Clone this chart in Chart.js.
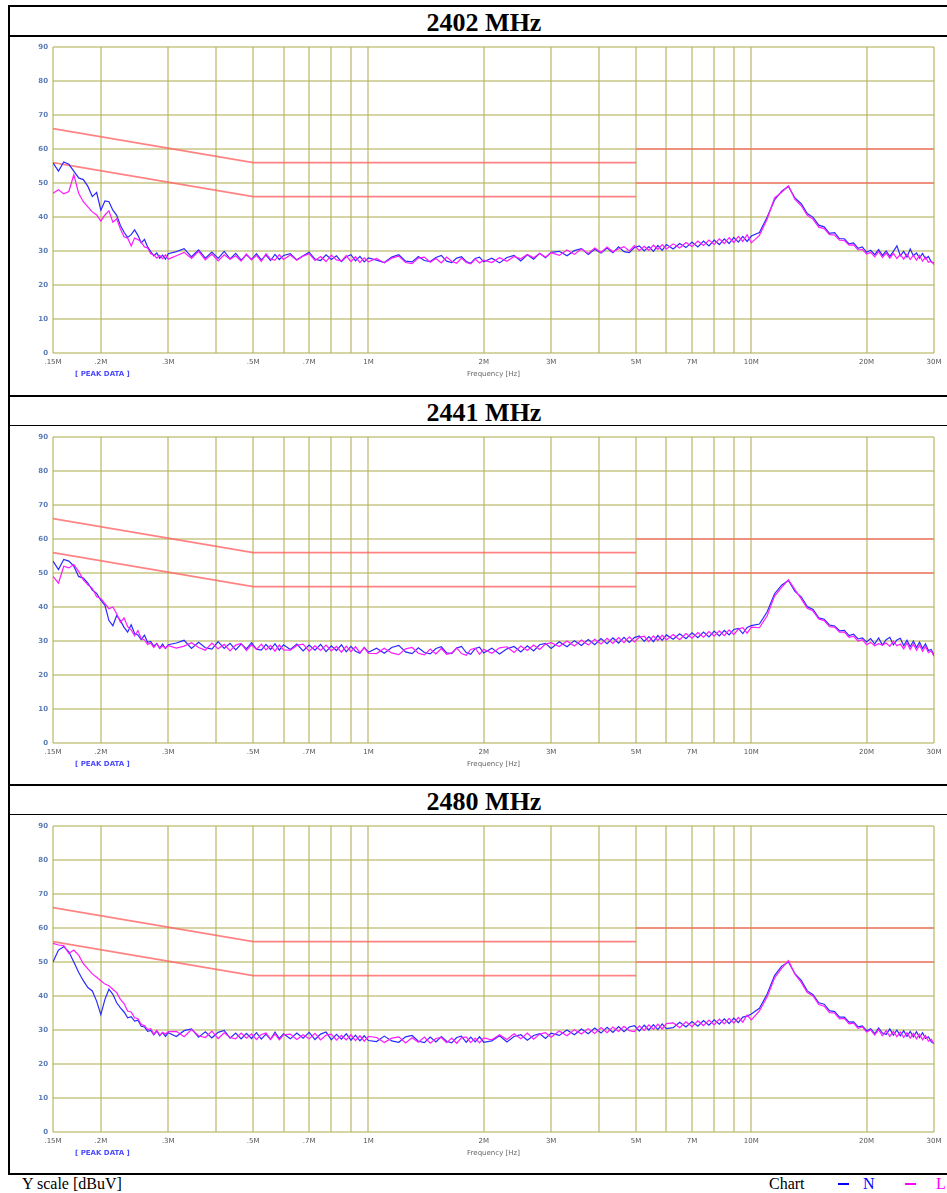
<!DOCTYPE html>
<html>
<head>
<meta charset="utf-8">
<title>Conducted emission</title>
<script src="https://cdn.jsdelivr.net/npm/chart.js@4.4.1/dist/chart.umd.min.js"></script>
<style>
    html, body { margin: 0; padding: 0; background: #fff; overflow: hidden; }
    body { width: 947px; height: 1193px; position: relative; font-family: "Liberation Serif", "Times New Roman", serif; }
    .rule { position: absolute; left: 8px; width: 960px; background: #000; }
    .vrule { position: absolute; left: 8px; top: 5px; width: 2px; height: 1170px; background: #000; }
    .title { position: absolute; left: 10px; width: 948px; height: 29px; line-height: 31px; text-align: center;
             font-weight: bold; font-size: 26px; color: #000; }
    canvas.plot { position: absolute; left: 10px; }
    .foot { position: absolute; top: 1174px; font-size: 16px; line-height: 20px; white-space: nowrap; }
    .dash { position: absolute; top: 1183px; width: 11px; height: 2px; }
</style>
</head>
<body>

<div class="vrule"></div>
<div class="rule" style="top:5px;height:2px"></div>
<div class="rule" style="top:35px;height:2px"></div>
<div class="rule" style="top:395px;height:2px"></div>
<div class="rule" style="top:425px;height:1px"></div>
<div class="rule" style="top:784px;height:2px"></div>
<div class="rule" style="top:814px;height:1px"></div>
<div class="rule" style="top:1173px;height:2px"></div>

<div class="title" style="top:7px">2402 MHz</div>
<canvas class="plot" id="plot2402" width="937" height="357" style="top:37px"></canvas>

<div class="title" style="top:397px">2441 MHz</div>
<canvas class="plot" id="plot2441" width="937" height="357" style="top:427px"></canvas>

<div class="title" style="top:786px">2480 MHz</div>
<canvas class="plot" id="plot2480" width="937" height="357" style="top:816px"></canvas>

<div class="foot" style="left:22px">Y scale [dBuV]</div>
<div class="foot" style="left:769px">Chart</div>
<div class="dash" style="left:838px;background:#0000ff"></div>
<div class="foot" style="left:863px;color:#0000ff">N</div>
<div class="dash" style="left:905px;background:#ff00ff"></div>
<div class="foot" style="left:936px;color:#ff00ff">L</div>

<script>
// Sweep frequencies in MHz, shared by every trace
const FREQ_MHZ = [
    0.150, 0.155, 0.160, 0.165, 0.170, 0.175, 0.180, 0.185, 0.190, 0.195, 0.200, 0.205, 0.210, 0.215, 0.220, 0.225,
    0.230, 0.235, 0.240, 0.245, 0.250, 0.255, 0.260, 0.265, 0.270, 0.275, 0.280, 0.285, 0.290, 0.295, 0.300,
    0.315, 0.330, 0.345, 0.360, 0.375, 0.390, 0.405, 0.420, 0.435, 0.450, 0.465, 0.480, 0.495, 0.510, 0.525, 0.540, 0.555, 0.570, 0.585, 0.600,
    0.625, 0.650, 0.675, 0.700, 0.725, 0.750, 0.775, 0.800, 0.825, 0.850, 0.875, 0.900, 0.925, 0.950, 0.975, 1.000,
    1.05, 1.10, 1.15, 1.20, 1.25, 1.30, 1.35, 1.40, 1.45, 1.50, 1.55, 1.60, 1.65, 1.70, 1.75, 1.80, 1.85, 1.90, 1.95, 2.00,
    2.1, 2.2, 2.3, 2.4, 2.5, 2.6, 2.7, 2.8, 2.9, 3.0,
    3.15, 3.30, 3.45, 3.60, 3.75, 3.90, 4.05, 4.20, 4.35, 4.50, 4.65, 4.80, 4.95, 5.10, 5.25, 5.40, 5.55, 5.70, 5.85, 6.00,
    6.25, 6.50, 6.75, 7.00, 7.25, 7.50, 7.75, 8.00, 8.25, 8.50, 8.75, 9.00, 9.25, 9.50, 9.75, 10.0,
    10.5, 11.0, 11.5, 12.0, 12.5, 13.0, 13.5, 14.0, 14.5, 15.0, 15.5, 16.0, 16.5, 17.0, 17.5, 18.0, 18.5, 19.0, 19.5, 20.0,
    20.5, 21.0, 21.5, 22.0, 22.5, 23.0, 23.5, 24.0, 24.5, 25.0, 25.5, 26.0, 26.5, 27.0, 27.5, 28.0, 28.5, 29.0, 29.5, 30.0
];

// 2402 MHz, peak readings in dBuV
const N_2402 = [
    55.9, 53.5, 56.2, 55.5, 53.5, 51.5, 51.0, 49.0, 46.0, 47.2, 42.0, 44.7, 44.5, 42.0, 40.5, 37.5,
    35.5, 34.0, 34.8, 36.2, 34.6, 32.4, 33.4, 31.2, 29.8, 28.6, 29.4, 27.9, 28.8, 27.6, 29.2,
    29.8, 30.7, 28.3, 30.3, 27.9, 29.7, 27.8, 29.9, 27.7, 29.3, 27.3, 28.9, 27.5, 29.2, 27.4, 28.8, 27.2, 29.0, 27.5, 28.7,
    29.2, 27.4, 28.6, 29.6, 27.6, 27.2, 28.9, 27.5, 28.6, 26.9, 28.3, 28.9, 27.1, 28.4, 26.8, 28.0,
    27.3, 26.6, 28.2, 28.9, 27.0, 26.8, 28.4, 27.2, 26.9, 28.1, 28.7, 27.0, 26.6, 27.9, 28.3, 26.9, 26.4, 27.8, 28.2, 26.8,
    27.9, 26.5, 28.1, 28.7, 27.1, 28.9, 27.6, 29.3, 28.0, 29.6,
    29.9, 28.6, 30.1, 30.7, 29.0, 30.5, 29.4, 30.9, 29.5, 31.2, 29.8, 29.5, 31.0, 31.5, 30.0, 31.3, 29.9, 31.6, 30.2, 31.9,
    30.6, 32.2, 31.0, 32.6, 31.2, 32.9, 31.5, 33.2, 31.9, 33.6, 32.2, 34.0, 32.6, 34.3, 32.8, 34.4,
    35.4, 40.0, 45.0, 47.6, 49.0, 45.6, 43.9, 41.0, 39.9, 37.6, 37.1, 35.2, 35.4, 33.6, 33.6, 32.1, 32.4, 30.8, 31.2, 29.6,
    30.2, 28.9, 30.4, 28.7, 30.0, 28.4, 29.9, 31.5, 28.6, 29.9, 28.2, 30.6, 28.6, 29.4, 27.9, 29.3, 27.7, 28.4, 26.8, 26.4
];
const L_2402 = [
    47.0, 48.0, 46.8, 47.5, 52.4, 47.0, 44.5, 43.0, 41.5, 40.6, 38.8, 40.6, 41.8, 38.5, 39.5, 36.5,
    34.2, 33.8, 31.5, 33.8, 33.4, 32.6, 31.2, 30.9, 29.2, 28.9, 27.9, 28.7, 27.7, 28.9, 27.6,
    28.6, 29.6, 27.8, 29.9, 27.4, 29.1, 27.1, 28.9, 27.6, 28.6, 27.0, 29.1, 27.4, 28.7, 26.9, 29.2, 27.6, 27.3, 28.9, 27.5,
    28.8, 27.3, 28.5, 29.2, 27.2, 28.4, 26.9, 28.8, 27.4, 27.1, 28.6, 26.9, 28.3, 26.6, 28.0, 26.8,
    27.8, 26.5, 27.9, 28.5, 26.6, 26.3, 27.9, 28.2, 26.7, 27.8, 26.5, 28.2, 27.0, 26.4, 27.9, 26.6, 26.2, 27.6, 26.5, 27.3,
    26.6, 28.0, 27.0, 28.4, 27.7, 29.0, 28.0, 29.3, 28.2, 29.5,
    28.7, 30.3, 29.0, 30.6, 29.3, 30.9, 29.6, 31.2, 29.8, 30.6, 31.3, 30.0, 31.6, 30.1, 31.4, 30.2, 31.7, 30.5, 31.9, 30.6,
    32.1, 30.9, 32.5, 31.3, 32.9, 31.6, 33.2, 31.9, 33.6, 32.2, 33.9, 32.5, 34.3, 32.8, 34.8, 32.4,
    34.6, 39.4, 45.6, 47.3, 49.2, 45.2, 43.3, 40.5, 39.3, 37.0, 36.6, 34.8, 34.7, 33.2, 33.1, 31.7, 31.8, 30.3, 30.5, 29.1,
    29.6, 28.3, 29.8, 28.1, 29.4, 27.9, 29.3, 27.8, 29.0, 27.6, 29.1, 27.5, 28.8, 27.3, 28.7, 27.0, 28.2, 26.7, 27.0, 26.0
];

// 2441 MHz
const N_2441 = [
    53.5, 51.0, 54.0, 53.5, 52.0, 49.0, 48.5, 47.0, 45.0, 44.0, 42.0, 40.5, 36.0, 34.5, 37.5, 36.0,
    34.0, 32.6, 34.8, 32.2, 31.8, 30.4, 31.7, 29.6, 29.9, 28.5, 29.3, 27.9, 29.1, 27.8, 28.9,
    29.4, 30.2, 27.8, 29.6, 28.0, 27.6, 29.8, 27.8, 29.3, 27.4, 29.1, 27.7, 29.5, 27.6, 27.3, 29.0, 27.5, 29.2, 27.3, 28.9,
    27.5, 29.1, 27.1, 28.8, 27.3, 29.0, 26.9, 28.6, 27.2, 28.9, 26.8, 28.4, 27.0, 26.4, 28.1, 26.7,
    27.9, 26.4, 28.1, 28.7, 26.8, 26.3, 28.0, 26.6, 26.2, 27.8, 28.3, 26.5, 26.3, 27.9, 28.4, 26.6, 26.1, 27.8, 28.2, 26.5,
    27.9, 26.2, 27.7, 28.4, 26.8, 28.6, 27.1, 28.9, 29.3, 27.8,
    29.8, 28.3, 30.1, 28.7, 30.4, 28.9, 30.7, 29.2, 30.9, 29.4, 31.1, 29.6, 31.0, 31.5, 29.9, 31.3, 29.8, 31.6, 30.2, 31.8,
    30.5, 32.1, 30.7, 32.4, 31.0, 32.6, 31.2, 32.9, 31.5, 33.1, 31.8, 33.4, 33.7, 32.2, 34.0, 34.5,
    35.0, 38.6, 43.9, 46.4, 47.8, 44.6, 43.0, 40.1, 39.3, 36.8, 36.4, 34.7, 34.4, 33.0, 33.1, 31.6, 32.0, 30.6, 30.9, 29.7,
    30.7, 29.1, 30.9, 28.8, 30.4, 31.1, 28.9, 30.3, 30.8, 28.6, 30.2, 28.3, 30.0, 28.1, 29.7, 27.8, 29.2, 27.2, 27.5, 25.9
];
const L_2441 = [
    49.0, 47.0, 52.0, 51.5, 52.5, 50.5, 48.0, 46.5, 45.5, 43.0, 42.5, 41.0, 39.5, 40.0, 38.0, 35.5,
    36.8, 34.2, 33.3, 31.5, 33.1, 30.7, 30.3, 29.0, 29.4, 28.1, 29.2, 27.8, 28.5, 27.9, 28.6,
    27.9, 28.5, 29.5, 28.1, 27.3, 29.4, 27.7, 29.0, 27.1, 28.8, 29.3, 27.2, 28.9, 27.5, 29.1, 27.4, 28.7, 27.0, 28.8, 27.4,
    27.3, 28.7, 29.1, 27.0, 28.6, 27.2, 28.8, 27.1, 28.4, 26.7, 28.5, 26.9, 28.3, 26.6, 28.0, 26.4,
    26.3, 27.9, 26.5, 26.0, 27.7, 28.1, 26.4, 25.9, 27.6, 26.2, 27.8, 26.1, 26.5, 28.0, 26.3, 25.8, 27.5, 27.9, 26.1, 27.6,
    26.4, 28.0, 28.3, 26.6, 28.5, 27.2, 28.8, 27.5, 29.1, 29.5,
    28.4, 30.0, 28.5, 30.3, 28.8, 30.5, 29.1, 30.8, 29.3, 31.0, 29.5, 31.2, 29.7, 31.1, 31.4, 29.8, 31.5, 30.1, 31.7, 30.3,
    31.9, 30.4, 32.2, 30.8, 32.5, 31.1, 32.8, 31.4, 33.0, 31.6, 33.3, 31.9, 33.5, 33.9, 32.3, 34.1,
    33.9, 37.4, 43.2, 45.8, 48.0, 45.1, 42.4, 39.6, 38.8, 36.5, 36.0, 34.2, 34.1, 32.6, 32.6, 31.1, 31.4, 30.0, 30.4, 28.9,
    29.6, 28.6, 29.2, 28.8, 29.4, 28.4, 30.0, 28.6, 29.1, 27.7, 29.4, 27.5, 29.1, 27.3, 28.8, 27.0, 28.4, 26.6, 27.1, 25.5
];

// 2480 MHz
const N_2480 = [
    50.0, 53.5, 54.5, 53.0, 50.0, 47.0, 44.5, 42.5, 41.5, 38.5, 34.5, 39.0, 42.0, 40.5, 38.0, 36.5,
    35.3, 33.6, 33.9, 32.6, 32.9, 31.1, 30.9, 29.6, 29.9, 28.6, 29.7, 28.3, 29.3, 28.1, 29.2,
    28.1, 29.8, 30.3, 27.9, 29.5, 27.7, 29.3, 29.9, 27.6, 29.1, 27.4, 29.0, 27.5, 29.2, 27.3, 28.8, 27.2, 29.4, 27.5, 28.9,
    27.4, 29.1, 27.6, 29.3, 27.2, 28.8, 29.4, 27.1, 28.7, 27.3, 28.9, 27.0, 28.5, 26.8, 28.3, 26.9,
    26.6, 28.2, 26.8, 26.4, 28.0, 28.4, 26.7, 26.3, 27.9, 26.5, 28.1, 26.7, 26.2, 27.8, 28.2, 26.4, 27.9, 26.5, 28.0, 26.4,
    26.8, 28.3, 26.5, 28.1, 28.6, 27.0, 28.4, 28.9, 27.5, 29.1,
    28.4, 30.0, 28.6, 30.3, 28.9, 30.6, 29.1, 30.8, 29.3, 31.0, 29.5, 30.9, 31.3, 29.7, 31.4, 30.0, 31.6, 30.1, 31.8, 30.4,
    30.7, 32.3, 30.9, 32.5, 31.1, 32.8, 31.4, 33.0, 31.7, 33.3, 31.9, 33.5, 32.2, 33.8, 34.1, 34.7,
    36.4, 40.6, 46.0, 48.8, 50.0, 46.6, 44.6, 41.5, 40.4, 38.0, 37.6, 35.7, 35.4, 33.8, 33.8, 32.3, 32.4, 30.9, 31.2, 29.8,
    30.4, 28.9, 30.6, 29.1, 28.7, 30.3, 28.5, 30.0, 28.3, 29.8, 28.1, 29.6, 28.0, 29.5, 27.8, 29.2, 27.5, 28.0, 26.5, 26.0
];
const L_2480 = [
    55.5, 55.0, 54.8, 52.5, 53.5, 52.0, 49.5, 48.0, 46.5, 45.5, 44.5, 43.5, 43.0, 42.0, 41.0, 39.0,
    37.8, 35.6, 35.3, 33.6, 33.3, 31.6, 31.3, 30.1, 30.4, 28.8, 29.9, 28.5, 29.3, 28.8, 29.5,
    29.6, 28.0, 30.1, 28.3, 27.8, 29.7, 27.5, 29.2, 27.8, 27.4, 29.1, 27.6, 28.9, 27.2, 28.7, 29.1, 27.3, 28.8, 27.1, 28.6,
    28.8, 27.2, 28.6, 27.4, 29.0, 27.1, 28.5, 28.8, 27.0, 28.4, 27.1, 28.6, 26.9, 28.3, 26.7, 28.1,
    27.8, 26.3, 27.6, 28.0, 26.2, 27.7, 26.4, 27.9, 26.1, 27.5, 27.8, 26.3, 27.6, 26.1, 27.7, 28.0, 26.3, 27.6, 26.2, 27.7,
    27.1, 28.6, 27.2, 28.9, 27.4, 29.1, 27.3, 28.8, 29.2, 27.9,
    29.7, 28.3, 30.1, 28.8, 30.4, 29.0, 30.7, 29.2, 30.9, 29.6, 31.1, 29.8, 29.5, 31.2, 29.9, 31.5, 30.2, 31.7, 30.3, 31.9,
    32.1, 30.7, 32.4, 31.0, 32.7, 31.3, 32.9, 31.5, 33.2, 31.8, 33.4, 32.0, 33.7, 32.3, 34.4, 33.0,
    35.6, 39.8, 45.3, 48.1, 50.4, 46.4, 44.0, 41.0, 40.0, 37.5, 37.0, 35.1, 35.0, 33.3, 33.4, 31.8, 32.0, 30.5, 30.9, 29.4,
    30.0, 28.5, 30.1, 28.3, 29.8, 28.1, 29.6, 28.0, 29.4, 27.8, 29.2, 27.6, 29.0, 27.4, 28.8, 27.1, 28.4, 26.7, 27.3, 25.8
];

// Class B limit lines (QP upper, AV lower); null breaks the step at 5 MHz
const LIMIT_FREQ = [0.15, 0.5, 5, 5, 5, 30];
const LIMIT_QP = [66, 56, 56, null, 60, 60];
const LIMIT_AV = [56, 46, 46, null, 50, 50];

// Axis grid and labels
const GRID_FREQ = [0.15, 0.2, 0.3, 0.4, 0.5, 0.6, 0.7, 0.8, 0.9, 1, 2, 3, 4, 5, 6, 7, 8, 9, 10, 20, 30];
const LABEL_FREQ = [0.15, 0.2, 0.3, 0.5, 0.7, 1, 2, 3, 5, 7, 10, 20, 30];
const LABEL_TEXT = ['.15M', '.2M', '.3M', '.5M', '.7M', '1M', '2M', '3M', '5M', '7M', '10M', '20M', '30M'];
const Y_TICKS = [0, 10, 20, 30, 40, 50, 60, 70, 80, 90];

const GRID_COLOR = 'rgba(178, 178, 90, 0.55)';
const SMALL_FONT = { family: 'DejaVu Sans, sans-serif', size: 7 };

/**
 * Pair frequencies with readings for a {x, y} dataset
 */
function toPoints(freqs, values) {
    return freqs.map((f, i) => ({ x: f, y: values[i] }));
}

// "[ PEAK DATA ]" caption under the left end of the axis
const peakCaption = {
    id: 'peakCaption',
    afterDraw(chart) {
        const { ctx, chartArea } = chart;
        ctx.save();
        ctx.font = 'bold 7px "DejaVu Sans", sans-serif';
        ctx.fillStyle = '#4a4aff';
        ctx.textBaseline = 'middle';
        ctx.fillText('[ PEAK DATA ]', chartArea.left + 22, chartArea.bottom + 21);
        ctx.restore();
    }
};

/**
 * Build one emission plot on the given canvas
 */
function buildPanel(canvasId, nValues, lValues) {
    const ctx = document.getElementById(canvasId);
    return new Chart(ctx, {
        type: 'line',
        data: {
            datasets: [
                {
                    label: 'L',
                    data: toPoints(FREQ_MHZ, lValues),
                    borderColor: '#ff1aff',
                    borderWidth: 1.2,
                    order: 0
                },
                {
                    label: 'N',
                    data: toPoints(FREQ_MHZ, nValues),
                    borderColor: '#2a2aff',
                    borderWidth: 1.2,
                    order: 1
                },
                {
                    label: 'QP limit',
                    data: toPoints(LIMIT_FREQ, LIMIT_QP),
                    borderColor: 'rgba(255, 100, 100, 0.8)',
                    borderWidth: 1.6,
                    order: 2
                },
                {
                    label: 'AV limit',
                    data: toPoints(LIMIT_FREQ, LIMIT_AV),
                    borderColor: 'rgba(255, 100, 100, 0.8)',
                    borderWidth: 1.6,
                    order: 3
                }
            ]
        },
        options: {
            responsive: false,
            animation: false,
            devicePixelRatio: 1,
            spanGaps: false,
            elements: {
                point: { radius: 0 },
                line: { tension: 0 }
            },
            layout: {
                padding: { left: 15, right: 13, top: 10, bottom: 16 }
            },
            plugins: {
                legend: { display: false },
                tooltip: { enabled: false }
            },
            scales: {
                x: {
                    type: 'logarithmic',
                    min: 0.15,
                    max: 30,
                    afterFit(scale) { scale.height = 25; },
                    afterBuildTicks(scale) {
                        scale.ticks = GRID_FREQ.map(v => ({ value: v }));
                    },
                    grid: { color: GRID_COLOR, lineWidth: 2, drawTicks: false },
                    border: { display: false },
                    ticks: {
                        autoSkip: false,
                        maxRotation: 0,
                        padding: 5,
                        color: '#555',
                        font: SMALL_FONT,
                        callback(value) {
                            const idx = LABEL_FREQ.indexOf(value);
                            return idx >= 0 ? LABEL_TEXT[idx] : '';
                        }
                    },
                    title: {
                        display: true,
                        text: 'Frequency [Hz]',
                        color: '#666',
                        font: SMALL_FONT,
                        padding: { top: 0, bottom: 0 }
                    }
                },
                y: {
                    min: 0,
                    max: 90,
                    afterFit(scale) { scale.width = 28; },
                    afterBuildTicks(scale) {
                        scale.ticks = Y_TICKS.map(v => ({ value: v }));
                    },
                    grid: { color: GRID_COLOR, lineWidth: 2, drawTicks: false },
                    border: { display: false },
                    ticks: {
                        padding: 5,
                        color: '#5b7db6',
                        font: { family: 'DejaVu Sans, sans-serif', size: 7, weight: 'bold' }
                    }
                }
            }
        },
        plugins: [peakCaption]
    });
}

buildPanel('plot2402', N_2402, L_2402);
buildPanel('plot2441', N_2441, L_2441);
buildPanel('plot2480', N_2480, L_2480);
</script>
</body>
</html>
